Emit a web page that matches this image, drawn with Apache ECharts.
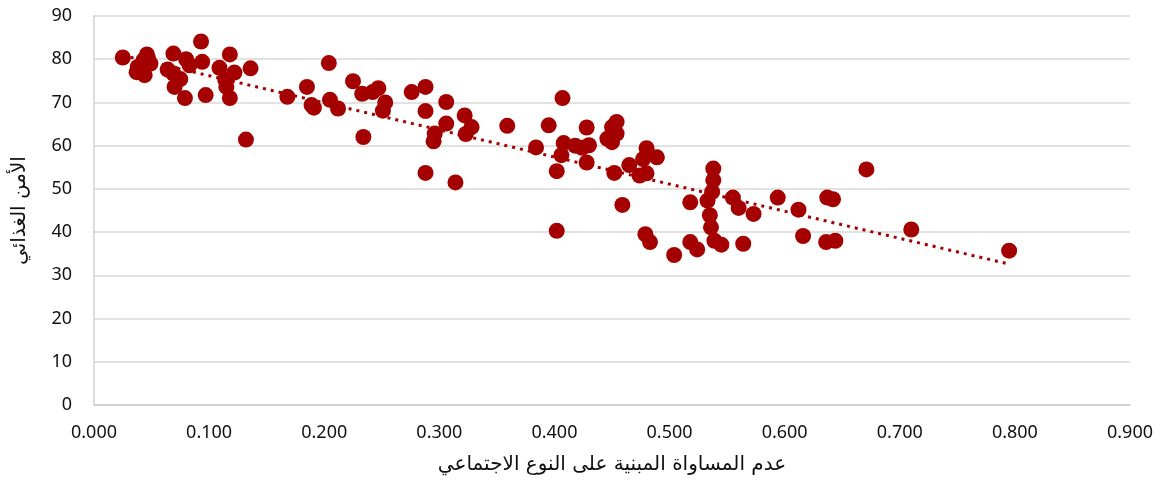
<!DOCTYPE html>
<html>
<head>
<meta charset="utf-8">
<script src="https://cdn.jsdelivr.net/npm/echarts@6/dist/echarts.min.js"></script>
<style>html,body{margin:0;padding:0;background:#fff}#c{width:1162px;height:489px}</style>
</head>
<body>
<div id="c"></div>
<script>
const xValues = [0.025,0.046,0.043,0.049,0.038,0.037,0.044,0.047,0.069,0.080,0.083,0.093,0.094,0.064,0.069,0.075,0.070,0.079,0.097,0.109,0.118,0.122,0.114,0.115,0.118,0.136,0.132,0.168,0.185,0.189,0.191,0.204,0.205,0.212,0.225,0.233,0.234,0.242,0.247,0.253,0.251,0.276,0.288,0.288,0.288,0.306,0.306,0.296,0.295,0.314,0.322,0.328,0.323,0.359,0.395,0.384,0.407,0.408,0.406,0.402,0.402,0.418,0.424,0.430,0.428,0.428,0.450,0.454,0.454,0.446,0.450,0.452,0.459,0.465,0.474,0.480,0.480,0.477,0.489,0.479,0.483,0.504,0.518,0.524,0.518,0.538,0.538,0.537,0.533,0.535,0.536,0.539,0.545,0.555,0.560,0.573,0.564,0.594,0.612,0.616,0.671,0.637,0.642,0.636,0.644,0.710,0.795];
const yValues = [80.4,81.1,79.8,79.0,78.2,77.0,76.3,80.2,81.3,80.0,78.6,84.1,79.4,77.6,76.7,75.4,73.6,71.0,71.7,78.0,81.1,76.9,75.3,73.6,71.0,77.9,61.4,71.3,73.6,69.4,68.8,79.1,70.6,68.6,74.9,72.0,62.0,72.4,73.3,70.0,68.1,72.4,73.6,68.0,53.7,70.1,65.1,62.8,61.0,51.5,67.0,64.3,62.7,64.6,64.7,59.6,71.0,60.6,57.8,54.1,40.3,60.0,59.5,60.1,64.2,56.1,64.3,65.5,62.8,61.6,60.8,53.7,46.3,55.5,53.1,53.6,59.4,56.9,57.3,39.5,37.7,34.7,37.7,36.0,46.9,54.7,52.0,49.3,47.3,43.9,41.1,38.0,37.1,48.0,45.6,44.2,37.3,48.0,45.2,39.1,54.5,48.0,47.6,37.7,38.0,40.6,35.7];
const trendX = [0.025, 0.795];
const trendY = [80.9, 32.6];
const xTitle = 'عدم المساواة المبنية على النوع الاجتماعي';
const yTitle = 'الأمن الغذائي';

const red = '#A50000';
const chart = echarts.init(document.getElementById('c'), null, {renderer: 'canvas'});
chart.setOption({
  animation: false,
  backgroundColor: '#fff',
  grid: {left: 94, right: 32, top: 16, bottom: 84, containLabel: false},
  xAxis: {
    type: 'value', min: 0, max: 0.9, interval: 0.1,
    name: xTitle, nameLocation: 'middle', nameGap: 50,
    nameTextStyle: {fontFamily: 'DejaVu Sans', fontSize: 20, color: '#111'},
    axisLine: {show: true, lineStyle: {color: '#D0D0D0', width: 1.5}},
    axisTick: {show: false},
    splitLine: {show: false},
    axisLabel: {formatter: v => v.toFixed(3), fontFamily: 'Noto Sans', fontSize: 18, color: '#111', margin: 19}
  },
  yAxis: {
    type: 'value', min: 0, max: 90, interval: 10,
    name: yTitle, nameLocation: 'middle', nameGap: 64,
    nameTextStyle: {fontFamily: 'DejaVu Sans', fontSize: 20, color: '#111'},
    axisLine: {show: true, lineStyle: {color: '#D0D0D0', width: 1.5}},
    axisTick: {show: false},
    splitLine: {show: true, lineStyle: {color: '#D9D9D9', width: 1.5}},
    axisLabel: {fontFamily: 'Noto Sans', fontSize: 18, color: '#111', margin: 22}
  },
  series: [
    {
      type: 'scatter',
      data: xValues.map((x, i) => [x, yValues[i]]),
      symbolSize: 16,
      itemStyle: {color: red, opacity: 1},
      z: 2
    },
    {
      type: 'line',
      data: trendX.map((x, i) => [x, trendY[i]]),
      showSymbol: false, symbol: 'none',
      lineStyle: {color: red, width: 3, type: [3, 5]},
      z: 3
    }
  ]
});
</script>
</body>
</html>
